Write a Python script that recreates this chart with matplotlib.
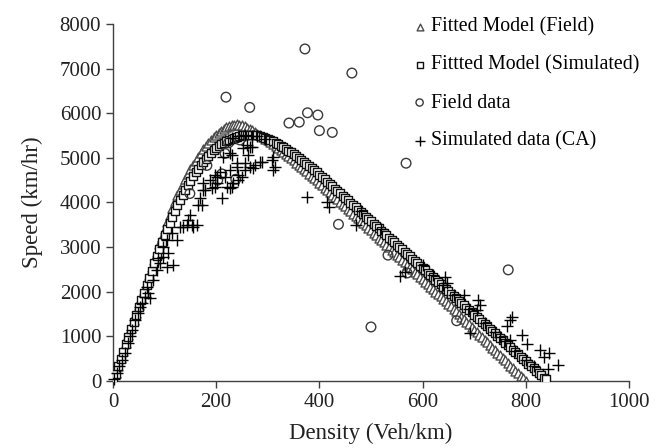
import matplotlib
matplotlib.use("Agg")
import matplotlib.pyplot as plt

plt.rcParams['font.family'] = ['Liberation Serif', 'DejaVu Serif']

# fitted model (field) - density grid and speed
field_model_k = list(range(0, 805, 5))
field_model_v = [0, 170, 340, 510, 680, 850, 1020, 1190, 1360, 1530, 1700, 1870, 2040, 2210, 2380,
                 2550, 2720, 2890, 3060, 3230, 3400, 3565, 3725,
                 3880, 4025, 4160, 4290, 4410, 4525, 4635, 4740, 4840, 4935, 5025, 5110, 5190, 5265,
                 5335, 5400, 5460, 5515, 5565, 5610, 5650, 5685, 5712, 5732, 5745, 5748,
                 5740, 5725, 5704, 5678, 5648, 5615, 5580, 5545, 5508, 5470, 5430, 5390, 5348, 5305,
                 5262, 5218, 5173, 5128, 5082, 5036, 4989, 4942, 4894, 4846, 4797, 4748, 4698, 4648,
                 4597, 4546, 4494, 4440,
                 4387, 4334, 4281, 4228, 4175, 4122, 4069, 4016, 3963, 3910, 3857, 3804, 3751, 3698,
                 3645, 3592, 3539, 3486, 3433, 3380,
                 3325, 3270, 3215, 3160, 3105, 3050, 2995, 2940, 2885, 2830, 2775, 2720, 2665, 2610,
                 2555, 2500, 2445, 2390, 2335, 2280, 2225, 2170, 2115, 2060, 2005, 1950, 1895, 1840,
                 1785, 1730,
                 1672, 1615, 1557, 1499, 1442, 1384, 1326, 1269, 1211, 1153, 1096, 1038, 980, 923,
                 865, 807, 750, 692, 634, 577, 519, 461, 404, 346, 288, 231, 173, 115, 58, 0]

# fitted model (simulated)
sim_model_k = list(range(0, 845, 5))
sim_model_v = [0, 165, 330, 495, 660, 825, 990, 1155, 1320, 1485, 1650, 1815, 1980, 2145, 2310,
               2475, 2640, 2800, 2960, 3115, 3265,
               3410, 3550, 3685, 3815, 3940, 4060, 4175, 4285, 4390, 4490, 4585, 4675, 4760, 4840,
               4915, 4985, 5050, 5110, 5165, 5215, 5260, 5300, 5340, 5375, 5405, 5432, 5455, 5475,
               5492, 5505, 5514, 5520,
               5522, 5520, 5515, 5505, 5492, 5475, 5455, 5432, 5405, 5375, 5343, 5310, 5275, 5238,
               5200, 5160, 5120, 5078, 5035, 4992, 4948, 4903, 4858, 4812, 4766, 4720, 4673, 4626,
               4574, 4521, 4469, 4417, 4364, 4312, 4260, 4207, 4155, 4103,
               4050, 3998, 3946, 3893, 3841, 3789, 3736, 3684, 3632, 3579,
               3527, 3475, 3422, 3370, 3318, 3265, 3213, 3161, 3108, 3056,
               3004, 2951, 2899, 2847, 2794, 2742, 2690, 2637, 2585, 2533,
               2480, 2428, 2376, 2323, 2271, 2219, 2166, 2114, 2062, 2009,
               1957, 1905, 1852, 1800, 1748, 1695, 1643, 1591, 1538, 1486,
               1434, 1381, 1329, 1277, 1224, 1172, 1120, 1067, 1015, 963,
               910, 858, 806, 753, 701, 649, 596, 544, 492, 439,
               387, 335, 282, 230, 178, 125, 73, 40]

# field data
field_k = [149, 182, 203, 211, 217, 219, 224, 238, 246, 265, 341, 361, 377, 397, 400, 372,
           425, 437, 463, 500, 533, 568, 570, 666, 766]
field_v = [4200, 4830, 4500, 4640, 5100, 6360, 5340, 4520, 5400, 6130, 5780, 5800, 6010, 5960,
           5610, 7440, 5570, 3510, 6900, 1210, 2820, 4880, 2420, 1350, 2490]

# simulated data (CA)
sim_k = [2, 8, 12, 17, 23, 29, 33, 37, 43, 48, 52, 56, 62, 66, 68, 72, 78, 85, 87, 91, 97, 97,
         105, 107, 105, 114, 116, 124, 130, 136, 143, 145, 149, 153, 155, 163,
         165, 169, 172, 174, 174, 178, 188, 192, 198, 198, 201, 201, 207, 211, 213, 217, 221,
         227, 227, 227, 231, 231, 233, 240, 240, 242, 242, 250, 252, 256, 256, 260, 262, 265,
         265, 269, 271, 275, 285, 289, 308, 310, 310, 314,
         230, 245, 255, 270, 280, 295,
         376, 415, 419, 471, 556, 566, 643, 647, 680, 707, 711, 705, 692, 773, 769, 764, 793,
         802, 769, 827, 845, 835, 862, 843,
         480, 520, 600, 620, 640, 660, 690, 720, 740, 750, 760, 780, 800, 815]
sim_v = [45, 180, 330, 470, 630, 850, 1000, 1140, 1370, 1520, 1650, 1750, 1880, 2110, 1970,
         1860, 2260, 2490, 2750, 2640, 2780, 3000, 2550, 2870, 3160, 3310, 2600, 3160, 3450,
         3450, 3490, 3610, 3720, 3490, 3450, 3490,
         3940, 4100, 3940, 4280, 4430, 4280, 4500, 4320, 4350, 4610, 4570, 4430, 4680, 4100,
         5020, 4570, 4350, 4730, 4320, 5100, 4350, 5060, 4430, 4790, 4880, 4500, 4610, 4570,
         5220, 4880, 4730, 5290, 5060, 4790, 5240, 5240, 4770, 4840, 4900, 4910, 4950, 4730,
         5020, 4790,
         5450, 5500, 5520, 5500, 5480, 5420,
         4120, 4010, 3900, 3500, 2350, 2440, 2330, 2190, 1930, 1810, 1700, 1590, 1075, 1430,
         1370, 1230, 1040, 830, 920, 690, 620, 540, 360, 260,
         3800, 3400, 2600, 2380, 2150, 1930, 1620, 1300, 1100, 990, 900, 680, 480, 330]

fig = plt.figure(figsize=(6.58, 4.48), dpi=100)
ax = fig.add_axes([0.1717, 0.1496, 0.7842, 0.7969])

ax.scatter(field_model_k, field_model_v, marker='^', s=42, facecolors='white',
           edgecolors='#4a4a4a', linewidths=1.0, label='Fitted Model (Field)', zorder=2)
ax.scatter(sim_model_k, sim_model_v, marker='s', s=36, facecolors='white',
           edgecolors='#111111', linewidths=1.0, label='Fittted Model (Simulated)', zorder=3)
ax.scatter(field_k, field_v, marker='o', s=48, facecolors='none',
           edgecolors='#3a3a3a', linewidths=1.0, label='Field data', zorder=4)
ax.scatter(sim_k, sim_v, marker='+', s=85, color='black', linewidths=1.0,
           label='Simulated data (CA)', zorder=5, clip_on=False)

ax.set_xlim(0, 1000)
ax.set_ylim(0, 8000)
ax.set_xticks(range(0, 1001, 200))
ax.set_yticks(range(0, 8001, 1000))
ax.spines['top'].set_visible(False)
ax.spines['right'].set_visible(False)
for sp in ('left', 'bottom'):
    ax.spines[sp].set_color('#404040')
    ax.spines[sp].set_linewidth(1.0)
ax.tick_params(direction='out', length=5, width=1, color='#404040', labelsize=15,
               labelcolor='#222222')
ax.set_xlabel('Density (Veh/km)', fontsize=16.5, color='#222222', labelpad=8)
ax.set_ylabel('Speed (km/hr)', fontsize=16.5, color='#222222', labelpad=12)

fig.legend(loc='upper left', bbox_to_anchor=(0.603, 0.992), frameon=False, fontsize=14.3,
           scatterpoints=1, markerscale=0.75, handletextpad=0.1, handlelength=0.9,
           labelspacing=0.95, borderpad=0.2)

fig.savefig('out.png', dpi=100)
